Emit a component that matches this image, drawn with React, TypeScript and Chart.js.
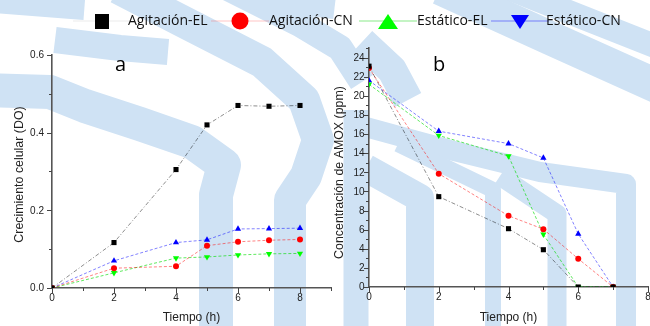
import React, { useEffect, useRef } from 'react';
import { Chart, registerables } from 'chart.js';

Chart.register(...registerables);

// ---------- data ----------
const seriesNames = ['Agitación-EL', 'Agitación-CN', 'Estático-EL', 'Estático-CN'];

// Panel a: cell growth (DO)
const timeA = [0, 2, 4, 5, 6, 7, 8];
const growthAgitEL = [0, 0.117, 0.305, 0.42, 0.47, 0.468, 0.47];
const growthAgitCN = [0, 0.051, 0.056, 0.109, 0.119, 0.123, 0.125];
const growthEstEL = [0, 0.039, 0.077, 0.08, 0.085, 0.088, 0.089];
const growthEstCN = [0, 0.07, 0.117, 0.124, 0.152, 0.153, 0.154];

// Panel b: AMOX concentration (ppm)
const timeB = [0, 2, 4, 5, 6, 7];
const amoxAgitEL = [23.1, 9.45, 6.1, 3.9, 0, 0];
const amoxAgitCN = [22.9, 11.85, 7.45, 6.05, 2.95, 0];
const amoxEstEL = [21.2, 15.85, 13.7, 5.5, 0, 0];
const amoxEstCN = [21.6, 16.3, 15.0, 13.5, 5.55, 0];

const xTitle = 'Tiempo (h)';
const yTitleA = 'Crecimiento celular (DO)';
const yTitleB = 'Concentración de AMOX (ppm)';
const panelLetters = ['a', 'b'];

// ---------- styles ----------
const lineColors = ['rgba(0,0,0,0.5)', 'rgba(255,0,0,0.55)', 'rgba(0,220,0,0.7)', 'rgba(0,0,255,0.55)'];
const legendLineColors = ['rgba(0,0,0,0.08)', 'rgba(255,90,90,0.35)', 'rgba(60,220,60,0.6)', 'rgba(60,60,255,0.6)'];
const pointColors = ['#000000', '#ff0000', '#00ff00', '#0000ff'];
const lineDashes = [[4, 2, 1, 2], [3, 2], [3, 2], [3, 2]];
const plotPointStyles = ['rect', 'circle', 'triangle', 'triangle'];
const plotPointRotation = [0, 0, 180, 0];
const plotPointRadius = [3.6, 3, 3.6, 3.6];
const legendMarkers = ['square', 'circle', 'up', 'down'];
const FONT = '"Liberation Sans", Arial, sans-serif';
const BG_BLUE = '#cfe2f4';

// decorative background bands (page watermark), [lineWidth, points...]
const bgBands: [number, number[][]][] = [
  [40, [[-20, -8], [85, 0]]],
  [34, [[-20, 90], [50, 92], [85, 106], [140, 124], [192, 142], [224, 165], [216, 195], [216, 340]]],
  [32, [[118, -12], [180, 20], [262, 62], [304, 100], [318, 140], [306, 176], [290, 200], [290, 340]]],
  [26, [[55, 40], [120, 48], [168, 52]]],
  [26, [[228, -12], [300, 24], [340, 48], [362, 82]]],
  [30, [[250, -6], [335, 4]]],
  [25, [[356, 110], [356, 340]]],
  [30, [[362, 42], [392, 70], [408, 100]]],
  [20, [[362, 126], [450, 150], [540, 172], [626, 184], [626, 340]]],
  [28, [[366, 168], [420, 198], [420, 340]]],
  [16, [[398, 144], [493, 190], [493, 340]]],
  [19, [[500, 176], [557, 214], [557, 340]]],
  [34, [[440, -12], [550, 38], [670, 92]]],
  [24, [[508, -12], [670, 52]]],
];

function makeDatasets(times: number[], series: number[][]) {
  return series.map((vals, i) => ({
    label: seriesNames[i],
    data: times.map((t, j) => ({ x: t, y: vals[j] })),
    borderColor: lineColors[i],
    borderWidth: 0.9,
    borderDash: lineDashes[i],
    backgroundColor: pointColors[i],
    pointBackgroundColor: pointColors[i],
    pointBorderColor: pointColors[i],
    pointBorderWidth: 0,
    pointStyle: plotPointStyles[i],
    rotation: plotPointRotation[i],
    pointRadius: plotPointRadius[i],
    fill: false,
    tension: 0,
  }));
}

const background = {
  id: 'bgBands',
  beforeDraw(chart: any, _args: any, opts: any) {
    if (!opts.show) return;
    const ctx = chart.ctx;
    ctx.save();
    ctx.strokeStyle = BG_BLUE;
    ctx.lineJoin = 'round';
    ctx.lineCap = 'butt';
    bgBands.forEach(([w, pts]) => {
      ctx.lineWidth = w;
      ctx.beginPath();
      pts.forEach((p, k) => (k === 0 ? ctx.moveTo(p[0], p[1]) : ctx.lineTo(p[0], p[1])));
      ctx.stroke();
    });
    ctx.restore();
  },
};

const axisDecor = {
  id: 'axisDecor',
  afterDraw(chart: any, _args: any, opts: any) {
    const ctx = chart.ctx;
    const xs = chart.scales.x;
    const ys = chart.scales.y;
    const area = chart.chartArea;
    ctx.save();
    // tick marks
    ctx.strokeStyle = '#444';
    ctx.lineWidth = 1;
    ctx.beginPath();
    for (let v = xs.min; v <= xs.max + 1e-9; v += opts.xMinor) {
      const px = Math.round(xs.getPixelForValue(v)) + 0.5;
      const major = Math.abs(v / opts.xMajor - Math.round(v / opts.xMajor)) < 1e-6;
      ctx.moveTo(px, area.bottom);
      ctx.lineTo(px, area.bottom + (major ? 5 : 3));
    }
    for (let v = ys.min; v <= ys.max + 1e-9; v += opts.yMinor) {
      const py = Math.round(ys.getPixelForValue(v)) + 0.5;
      const major = Math.abs(v / opts.yMajor - Math.round(v / opts.yMajor)) < 1e-6;
      ctx.moveTo(area.left, py);
      ctx.lineTo(area.left - (major ? 5 : 3), py);
    }
    ctx.stroke();

    // tick labels
    ctx.fillStyle = '#222';
    ctx.font = '10px ' + FONT;
    ctx.textAlign = 'center';
    ctx.textBaseline = 'middle';
    for (let v = xs.min; v <= xs.max + 1e-9; v += opts.xMajor) {
      ctx.fillText(String(Math.round(v)), xs.getPixelForValue(v), area.bottom + 10.5);
    }
    ctx.textAlign = 'right';
    const nY = Math.floor((ys.max - ys.min) / opts.yMajor + 1e-9);
    for (let k = 0; k <= nY; k++) {
      const v = ys.min + k * opts.yMajor;
      ctx.fillText(v.toFixed(opts.yDecimals), area.left - opts.yLabelGap, ys.getPixelForValue(v) + 0.5);
    }

    // axis titles
    ctx.font = '12px ' + FONT;
    ctx.textAlign = 'center';
    ctx.fillText(opts.xTitle, (area.left + area.right) / 2, 318);
    ctx.save();
    ctx.translate(area.left - opts.yTitleOffset, (area.top + area.bottom) / 2 + opts.yTitleDy);
    ctx.rotate(-Math.PI / 2);
    ctx.font = '12.4px ' + FONT;
    ctx.fillText(opts.yTitle, 0, 0);
    ctx.restore();

    // panel letter
    ctx.fillStyle = '#000';
    ctx.font = '20px "Open Sans", sans-serif';
    ctx.textAlign = 'left';
    ctx.textBaseline = 'alphabetic';
    ctx.fillText(opts.letter, area.left + opts.letterDx, 71);
    ctx.restore();
  },
};

const legendPlugin = {
  id: 'customLegend',
  afterDraw(chart: any, _args: any, opts: any) {
    if (!opts.show) return;
    const ctx = chart.ctx;
    const markerX = [102, 240, 388, 520];
    const textX = [128, 269, 417, 546];
    const cy = 21;
    ctx.save();
    chart.data.datasets.forEach((ds: any, i: number) => {
      const mx = markerX[i];
      ctx.strokeStyle = legendLineColors[i];
      ctx.lineWidth = 1.2;
      ctx.beginPath();
      ctx.moveTo(mx - 29, cy);
      ctx.lineTo(mx + 29, cy);
      ctx.stroke();
      ctx.fillStyle = pointColors[i];
      ctx.beginPath();
      const m = legendMarkers[i];
      if (m === 'square') {
        ctx.rect(mx - 7, cy - 7, 14, 15);
      } else if (m === 'circle') {
        ctx.arc(mx, cy, 8.5, 0, Math.PI * 2);
      } else if (m === 'up') {
        ctx.moveTo(mx, cy - 7);
        ctx.lineTo(mx + 10, cy + 8);
        ctx.lineTo(mx - 10, cy + 8);
        ctx.closePath();
      } else {
        ctx.moveTo(mx - 9, cy - 6);
        ctx.lineTo(mx + 9, cy - 6);
        ctx.lineTo(mx, cy + 8);
        ctx.closePath();
      }
      ctx.fill();
      ctx.fillStyle = '#111';
      ctx.font = '14px "Open Sans", sans-serif';
      ctx.textBaseline = 'alphabetic';
      ctx.fillText(ds.label, textX[i], 25);
    });
    ctx.restore();
  },
};

function buildConfig(p: any) {
  return {
    type: 'line' as const,
    data: { datasets: p.datasets },
    plugins: [background, axisDecor, legendPlugin],
    options: {
      responsive: false,
      animation: false,
      layout: { padding: p.padding },
      plugins: {
        legend: { display: false },
        tooltip: { enabled: false },
        bgBands: { show: p.legend },
        axisDecor: {
          xMinor: 1,
          xMajor: 2,
          yMinor: p.yStep,
          yMajor: p.yMajor,
          yDecimals: p.yDecimals,
          yLabelGap: p.yLabelGap,
          xTitle: xTitle,
          yTitle: p.yTitle,
          yTitleOffset: p.yTitleOffset,
          yTitleDy: p.yTitleDy,
          letter: p.letter,
          letterDx: p.letterDx,
        },
        customLegend: { show: p.legend },
      },
      scales: {
        x: {
          type: 'linear',
          min: 0,
          max: p.xMax,
          grid: { display: false },
          border: { display: true, color: '#555', width: 1.6 },
          ticks: { display: false, stepSize: 1 },
          afterFit: (s: any) => {
            s.height = p.xHeight;
          },
        },
        y: {
          type: 'linear',
          min: 0,
          max: p.yMax,
          grid: { display: false },
          border: { display: true, color: '#555', width: 1.6 },
          ticks: { display: false, stepSize: p.yStep },
          afterFit: (s: any) => {
            s.width = p.yWidth;
          },
        },
      },
    },
  };
}

export default function App() {
  const refA = useRef<HTMLCanvasElement>(null);
  const refB = useRef<HTMLCanvasElement>(null);

  useEffect(() => {
    const chartA = new Chart(
      refA.current as HTMLCanvasElement,
      buildConfig({
        datasets: makeDatasets(timeA, [growthAgitEL, growthAgitCN, growthEstEL, growthEstCN]),
        xMax: 9,
        yMax: 0.6,
        yStep: 0.1,
        yMajor: 0.2,
        yDecimals: 1,
        yLabelGap: 8,
        yTitle: yTitleA,
        yTitleOffset: 32,
        yTitleDy: 3,
        yWidth: 52,
        xHeight: 38,
        padding: { left: 0, top: 55, right: 319, bottom: 0 },
        letter: panelLetters[0],
        letterDx: 63,
        legend: true,
      }) as any
    );
    const chartB = new Chart(
      refB.current as HTMLCanvasElement,
      buildConfig({
        datasets: makeDatasets(timeB, [amoxAgitEL, amoxAgitCN, amoxEstEL, amoxEstCN]),
        xMax: 8,
        yMax: 25,
        yStep: 1,
        yMajor: 2,
        yDecimals: 0,
        yLabelGap: 4.5,
        yTitle: yTitleB,
        yTitleOffset: 29,
        yTitleDy: 5,
        yWidth: 49,
        xHeight: 39,
        padding: { left: 0, top: 48, right: 17, bottom: 0 },
        letter: panelLetters[1],
        letterDx: 64,
        legend: false,
      }) as any
    );
    return () => {
      chartA.destroy();
      chartB.destroy();
    };
  }, []);

  return (
    <div
      style={{
        position: 'fixed',
        left: 0,
        top: 0,
        width: 650,
        height: 326,
        overflow: 'hidden',
        background: '#ffffff',
      }}
    >
      <canvas ref={refA} width={650} height={326} style={{ position: 'absolute', left: 0, top: 0 }} />
      <canvas ref={refB} width={345} height={326} style={{ position: 'absolute', left: 320, top: 0 }} />
    </div>
  );
}
